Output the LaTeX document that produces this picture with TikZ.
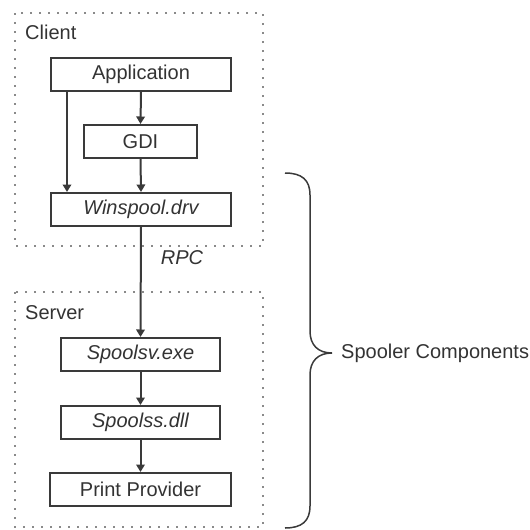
\documentclass[tikz,border=0pt]{standalone}
\usepackage{fontspec}
\setmainfont{Liberation Sans}
\usetikzlibrary{arrows.meta}
\definecolor{ink}{HTML}{3A3A3A}
\definecolor{txt}{HTML}{333333}
\definecolor{dotc}{HTML}{8A8A8A}
\begin{document}
\begin{tikzpicture}[x=1pt,y=-1pt,
  every node/.style={font=\fontsize{20}{23}\selectfont, text=txt},
  compbox/.style={draw=ink, line width=2pt, minimum height=33pt, inner sep=0pt, anchor=north west},
  grp/.style={draw=dotc, line width=2pt, dash pattern=on 1.6pt off 7.4pt},
  arr/.style={draw=ink, line width=2pt, -{Triangle[width=8.5pt,length=7.5pt]}},
  lbl/.style={anchor=west, inner sep=0pt}]
\useasboundingbox (0,0) rectangle (530,530);
% groups
\draw[grp] (15,13) rectangle (263,246);
\draw[grp] (15,292) rectangle (263,527);
\node[lbl] (client) at (25,32) {Client};
\node[lbl] (server) at (25,313) {Server};
% boxes
\node[compbox, minimum width=180pt] (app) at (50,57) {Application};
\node[compbox, minimum width=113pt] (gdi) at (83,124) {GDI};
\node[compbox, minimum width=180pt] (win) at (50,192) {\itshape Winspool.drv};
\node[compbox, minimum width=159pt] (sv) at (60,337) {\itshape Spoolsv.exe};
\node[compbox, minimum width=159pt] (ss) at (60,405) {\itshape Spoolss.dll};
\node[compbox, minimum width=181pt] (pp) at (49,472) {Print Provider};
% arrows
\draw[arr] (app.south) -- (gdi.north);
\draw[arr] (gdi.south) -- (win.north);
\draw[arr] (app.south west) ++(17,0) coordinate (a1) -- (a1 |- win.north);
\draw[arr] (win.south) -- (sv.north);
\draw[arr] (sv.south) -- (ss.north);
\draw[arr] (ss.south) -- (pp.north);
\node[inner sep=0pt] (rpc) at (182,258) {\itshape RPC};
% brace
\draw[ink, line width=1.5pt] (285,173) .. controls (302,173) and (310,180) .. (310,195)
  -- (310,331) .. controls (310,345) and (318,353) .. (332,353)
  .. controls (318,353) and (310,361) .. (310,375)
  -- (310,506) .. controls (310,521) and (302,528) .. (285,528);
\node[lbl] (spool) at (341,353) {Spooler Components};
\end{tikzpicture}
\end{document}
